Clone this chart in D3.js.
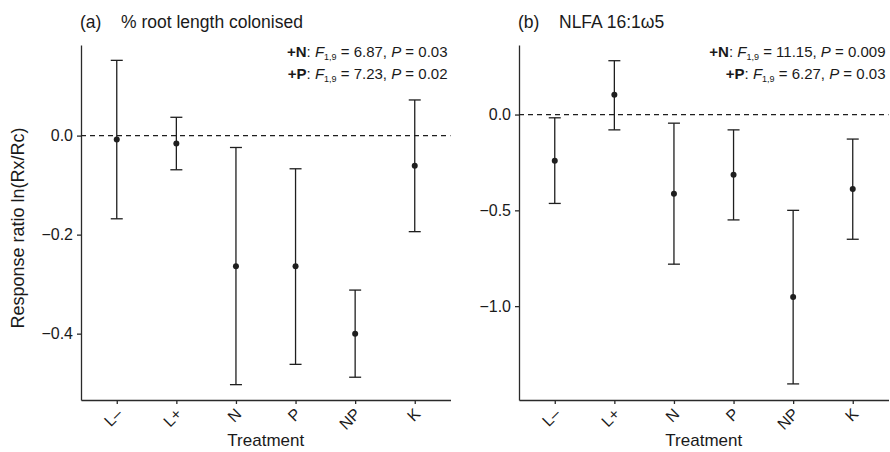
<!DOCTYPE html>
<html lang="en">
<head>
<meta charset="UTF-8">
<title>Response ratios</title>
<script src="https://d3js.org/d3.v7.min.js"></script>
<style>
  body { margin: 0; background: #fff; }
  svg { display: block; font-family: "Liberation Sans", Arial, sans-serif; }
  .tick text { font-size: 16px; fill: #1a1a1a; }
  .domain, .tick line { stroke: #2a2a2a; stroke-width: 1.3; }
  .ptitle { font-size: 17.5px; fill: #1a1a1a; }
  .stat { font-size: 15px; fill: #1a1a1a; }
  .axlab { font-size: 17px; fill: #1a1a1a; }
</style>
</head>
<body>
<svg id="chart" width="890" height="452"></svg>
<script>
// categories (x axis)
const treatments = ["L\u2013", "L+", "N", "P", "NP", "K"];

// panel (a): % root length colonised
const rootMean  = [-0.008, -0.016, -0.264, -0.264, -0.400, -0.061];
const rootUpper = [ 0.152,  0.037, -0.024, -0.067, -0.312,  0.072];
const rootLower = [-0.168, -0.069, -0.503, -0.462, -0.488, -0.194];
const rootTicks = [0.0, -0.2, -0.4];

// panel (b): NLFA 16:1w5
const nlfaMean  = [-0.241,  0.103, -0.413, -0.314, -0.953, -0.389];
const nlfaUpper = [-0.017,  0.281, -0.045, -0.080, -0.500, -0.128];
const nlfaLower = [-0.464, -0.080, -0.781, -0.550, -1.406, -0.651];
const nlfaTicks = [0.0, -0.5, -1.0];

const svg = d3.select("#chart");
const ink = "#1f1f1f";

function drawPanel(opt) {
  const g = svg.append("g");
  const x = d3.scalePoint().domain(treatments)
    .range([opt.left, opt.right]).padding(0.6);
  const y = d3.scaleLinear().domain(opt.domain).range([400, 45]);

  // axes
  g.append("g")
    .attr("transform", `translate(0,400)`)
    .call(d3.axisBottom(x).tickSize(4).tickSizeOuter(0))
    .call(a => a.selectAll(".tick text")
      .attr("text-anchor", "end")
      .attr("dy", null).attr("y", 0).attr("x", 0)
      .attr("transform", "translate(6,15) rotate(-45)"));

  g.append("g")
    .attr("transform", `translate(${opt.left},0)`)
    .call(d3.axisLeft(y).tickValues(opt.ticks).tickSize(4).tickSizeOuter(0))
    .call(a => a.selectAll(".tick text").attr("dx", "-1").text(d => d3.format(".1f")(d).replace("-", "\u2013")));

  // zero line
  g.append("line")
    .attr("x1", opt.left).attr("x2", opt.right)
    .attr("y1", y(0)).attr("y2", y(0))
    .attr("stroke", ink).attr("stroke-width", 1.2)
    .attr("stroke-dasharray", "5,4");

  const rows = treatments.map((t, i) => ({ t, m: opt.mean[i], hi: opt.upper[i], lo: opt.lower[i] }));
  const bars = g.selectAll(".bar").data(rows).enter().append("g");
  const cap = 6;
  bars.append("line")
    .attr("x1", d => x(d.t)).attr("x2", d => x(d.t))
    .attr("y1", d => y(d.hi)).attr("y2", d => y(d.lo))
    .attr("stroke", ink).attr("stroke-width", 1.3);
  bars.append("line")
    .attr("x1", d => x(d.t) - cap).attr("x2", d => x(d.t) + cap)
    .attr("y1", d => y(d.hi)).attr("y2", d => y(d.hi))
    .attr("stroke", ink).attr("stroke-width", 1.3);
  bars.append("line")
    .attr("x1", d => x(d.t) - cap).attr("x2", d => x(d.t) + cap)
    .attr("y1", d => y(d.lo)).attr("y2", d => y(d.lo))
    .attr("stroke", ink).attr("stroke-width", 1.3);
  bars.append("circle")
    .attr("cx", d => x(d.t)).attr("cy", d => y(d.m))
    .attr("r", 3).attr("fill", ink);

  // panel title
  g.append("text").attr("class", "ptitle")
    .attr("x", opt.left - 1).attr("y", 28).text(opt.letter);
  g.append("text").attr("class", "ptitle")
    .attr("x", opt.left + 40).attr("y", 28).text(opt.title);

  // statistics
  opt.stats.forEach((s, i) => {
    const t = g.append("text").attr("class", "stat")
      .attr("x", opt.right - 3).attr("y", 57 + i * 22).attr("text-anchor", "end");
    t.append("tspan").attr("font-weight", "bold").text(s[0]);
    t.append("tspan").text(": ");
    t.append("tspan").attr("font-style", "italic").text("F");
    t.append("tspan").attr("font-size", "9px").attr("dy", 3).text("1,9");
    t.append("tspan").attr("dy", -3).text(" = " + s[1] + ", ");
    t.append("tspan").attr("font-style", "italic").text("P");
    t.append("tspan").text(" = " + s[2]);
  });

  // x axis title
  g.append("text").attr("class", "axlab")
    .attr("x", (opt.left + opt.right) / 2).attr("y", 446)
    .attr("text-anchor", "middle").text("Treatment");
}

drawPanel({
  left: 81, right: 450.5, domain: [-0.534, 0.183], ticks: rootTicks,
  mean: rootMean, upper: rootUpper, lower: rootLower,
  letter: "(a)", title: "% root length colonised",
  stats: [["+N", "6.87", "0.03"], ["+P", "7.23", "0.02"]]
});

drawPanel({
  left: 519, right: 888.5, domain: [-1.49, 0.363], ticks: nlfaTicks,
  mean: nlfaMean, upper: nlfaUpper, lower: nlfaLower,
  letter: "(b)", title: "NLFA 16:1\u03c95",
  stats: [["+N", "11.15", "0.009"], ["+P", "6.27", "0.03"]]
});

// y axis title
svg.append("text").attr("class", "axlab")
  .attr("transform", "translate(24,228) rotate(-90)")
  .attr("text-anchor", "middle")
  .style("font-size", "18px")
  .text("Response ratio ln(Rx/Rc)");
</script>
</body>
</html>
